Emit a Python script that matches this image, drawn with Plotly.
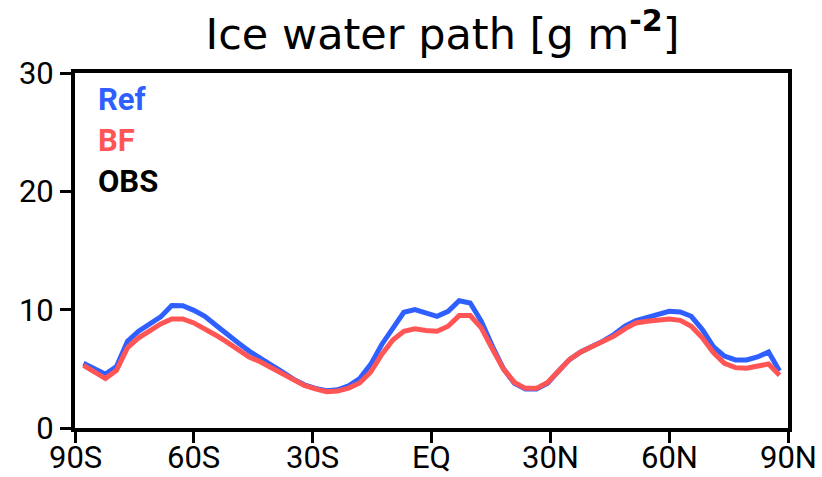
import plotly.graph_objects as go

# T42 Gaussian latitudes (deg), south to north
lat = [-87.86, -85.10, -82.31, -79.53, -76.74, -73.95, -71.16, -68.37,
       -65.58, -62.79, -60.00, -57.21, -54.42, -51.63, -48.84, -46.04,
       -43.25, -40.46, -37.67, -34.88, -32.09, -29.30, -26.51, -23.72,
       -20.93, -18.14, -15.35, -12.56, -9.77, -6.98, -4.19, -1.40,
       1.40, 4.19, 6.98, 9.77, 12.56, 15.35, 18.14, 20.93,
       23.72, 26.51, 29.30, 32.09, 34.88, 37.67, 40.46, 43.25,
       46.04, 48.84, 51.63, 54.42, 57.21, 60.00, 62.79, 65.58,
       68.37, 71.16, 73.95, 76.74, 79.53, 82.31, 85.10, 87.86]

ref_iwp = [5.47, 5.05, 4.55, 5.19, 7.34, 8.18, 8.80, 9.39,
           10.36, 10.33, 9.94, 9.44, 8.68, 7.90, 7.20, 6.50,
           5.95, 5.30, 4.74, 4.13, 3.65, 3.35, 3.15, 3.23,
           3.57, 4.18, 5.38, 7.06, 8.46, 9.78, 10.00, 9.72,
           9.44, 9.86, 10.75, 10.56, 9.02, 6.92, 5.02, 3.77,
           3.29, 3.29, 3.79, 4.82, 5.80, 6.42, 6.87, 7.34,
           7.90, 8.60, 9.08, 9.36, 9.66, 9.86, 9.80, 9.44,
           8.32, 6.87, 6.08, 5.75, 5.75, 6.00, 6.42, 4.82]

bf_iwp = [5.30, 4.74, 4.18, 4.88, 6.79, 7.62, 8.27, 8.80,
          9.22, 9.22, 8.88, 8.40, 7.84, 7.26, 6.64, 6.00,
          5.60, 5.10, 4.55, 4.07, 3.60, 3.30, 3.07, 3.12,
          3.37, 3.80, 4.73, 6.22, 7.43, 8.18, 8.38, 8.24,
          8.18, 8.60, 9.50, 9.50, 8.46, 6.70, 5.00, 3.85,
          3.35, 3.35, 3.85, 4.82, 5.80, 6.42, 6.87, 7.30,
          7.76, 8.38, 8.88, 9.02, 9.16, 9.22, 9.10, 8.60,
          7.62, 6.37, 5.47, 5.10, 5.05, 5.19, 5.41, 4.46]

x_tickvals = [-90, -60, -30, 0, 30, 60, 90]
x_ticktext = ["90S", "60S", "30S", "EQ", "30N", "60N", "90N"]
y_tickvals = [0, 10, 20, 30]

legend_names = ["Ref", "BF", "OBS"]
legend_colors = ["#2f5fff", "#ff5555", "#000000"]

TICKFONT = "Roboto, sans-serif"

fig = go.Figure()
fig.add_trace(go.Scatter(x=lat, y=ref_iwp, mode="lines", name="Ref",
                         line=dict(color=legend_colors[0], width=5)))
fig.add_trace(go.Scatter(x=lat, y=bf_iwp, mode="lines", name="BF",
                         line=dict(color=legend_colors[1], width=5)))

for i, (name, col) in enumerate(zip(legend_names, legend_colors)):
    fig.add_annotation(x=0.03, y=0.925 - i * 0.115, xref="paper", yref="paper",
                       xanchor="left", yanchor="middle", showarrow=False,
                       text="<b>" + name + "</b>",
                       font=dict(family=TICKFONT, size=31, color=col))

# x tick labels as annotations (placed close under the ticks like the reference)
for v, t in zip(x_tickvals, x_ticktext):
    fig.add_annotation(x=v, y=0, xref="x", yref="paper",
                       xanchor="center", yanchor="top", yshift=-9,
                       showarrow=False, text=t,
                       font=dict(family=TICKFONT, size=31, color="black"))

fig.update_layout(
    width=822, height=477,
    margin=dict(l=75, r=34, t=73, b=49),
    paper_bgcolor="white", plot_bgcolor="white",
    showlegend=False,
    title=dict(text="Ice water path [g m<sup><b>-2</b></sup>]",
               x=442.5 / 822, xref="container", xanchor="center",
               y=1 - 34 / 477, yref="container", yanchor="middle",
               font=dict(family="DejaVu Sans", size=43, color="black")),
)
fig.update_xaxes(range=[-90, 90], tickvals=x_tickvals, showticklabels=False,
                 showgrid=False, zeroline=False, automargin=False,
                 showline=True, linecolor="black", linewidth=4, mirror=True,
                 ticks="outside", ticklen=11, tickwidth=3, tickcolor="black")
fig.update_yaxes(range=[0, 30], tickvals=y_tickvals,
                 showgrid=False, zeroline=False, automargin=False,
                 showline=True, linecolor="black", linewidth=4, mirror=True,
                 ticks="outside", ticklen=11, tickwidth=3, tickcolor="black",
                 tickfont=dict(family=TICKFONT, size=31, color="black"))

fig.write_html("out.html")
